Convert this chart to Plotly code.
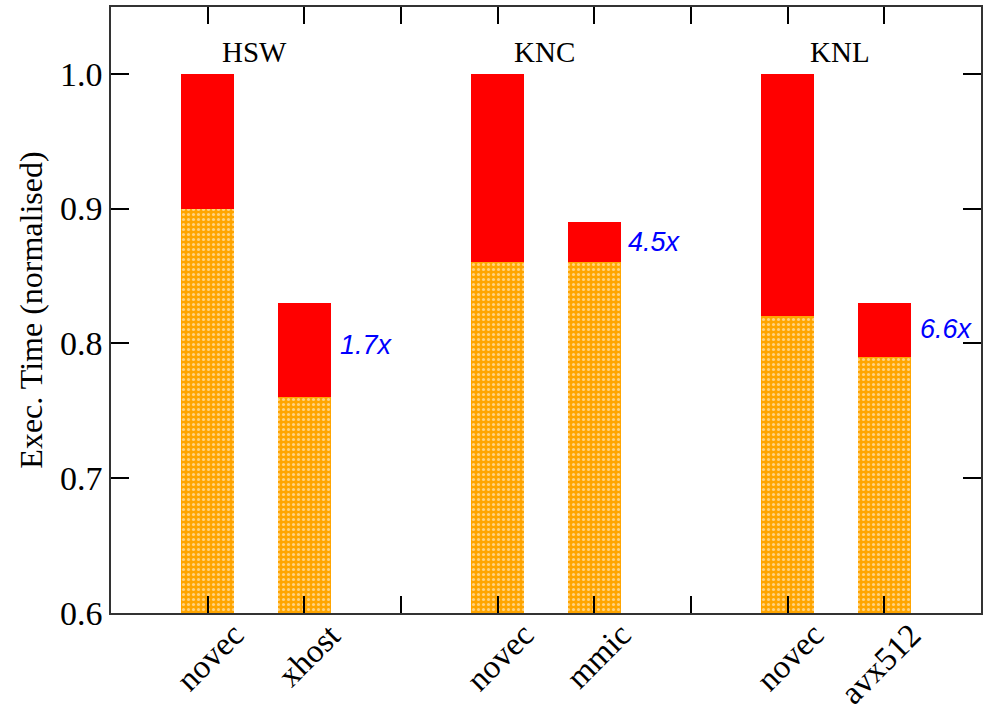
import plotly.graph_objects as go

# Bar positions and labels
positions = [1, 2, 4, 5, 7, 8]
tick_vals = [1, 2, 3, 4, 5, 6, 7, 8]
bar_labels = ["novec", "xhost", "novec", "mmic", "novec", "avx512"]

# Normalised execution time: lower (vector) part and total
lower_part = [0.90, 0.76, 0.86, 0.86, 0.82, 0.79]
total_time = [1.00, 0.83, 1.00, 0.89, 1.00, 0.83]
upper_part = [t - b for t, b in zip(total_time, lower_part)]

# Architecture group labels
groups = ["HSW", "KNC", "KNL"]
group_x = [1.48, 4.48, 7.54]
group_y = 1.016

# Speedup labels
speedups = ["1.7x", "4.5x", "6.6x"]
speedup_x = [2.35, 5.33, 8.35]
speedup_y = [0.799, 0.875, 0.811]

serif = "Liberation Serif, Times New Roman, serif"

fig = go.Figure()
fig.add_trace(go.Bar(
    x=positions, y=lower_part, width=0.55,
    marker=dict(color="#ffa500", line=dict(width=0),
                pattern=dict(shape=".", fgcolor="#ffffff", bgcolor="#ffa500",
                             size=5, solidity=0.3)),
    showlegend=False,
))
fig.add_trace(go.Bar(
    x=positions, y=upper_part, width=0.55,
    marker=dict(color="#ff0000", line=dict(width=0)),
    showlegend=False,
))

# Rotated category labels under each bar
for lab, px in zip(bar_labels, positions):
    fig.add_annotation(x=px, y=0, xref="x", yref="paper", text=lab,
                       textangle=-45, showarrow=False,
                       xanchor="right", yanchor="top", xshift=46, yshift=-1,
                       font=dict(family=serif, size=33, color="black"))

for name, gx in zip(groups, group_x):
    fig.add_annotation(x=gx, y=group_y, text=name, showarrow=False,
                       font=dict(family=serif, size=29, color="black"))

for s, sx, sy in zip(speedups, speedup_x, speedup_y):
    fig.add_annotation(x=sx, y=sy, text=s, showarrow=False, xanchor="left",
                       font=dict(family="Liberation Sans, Arial, sans-serif",
                                 size=27, color="#0000ff", style="italic"))

fig.update_layout(
    barmode="stack",
    width=990, height=716,
    margin=dict(l=111, r=9, t=5, b=103),
    paper_bgcolor="white", plot_bgcolor="white",
    font=dict(family=serif, color="black"),
    xaxis=dict(range=[0, 9], tickvals=tick_vals, showticklabels=False,
               ticks="inside", ticklen=17, tickwidth=1.5,
               tickcolor="black", mirror="ticks", showline=True,
               linecolor="#333333", linewidth=1.5, showgrid=False,
               zeroline=False),
    yaxis=dict(range=[0.6, 1.0495], tickvals=[0.6, 0.7, 0.8, 0.9, 1.0],
               tickformat=".1f", ticks="inside", ticklen=18, tickwidth=1.5,
               tickcolor="black", mirror="ticks", showline=True,
               linecolor="#333333", linewidth=1.5, showgrid=False,
               zeroline=False, tickfont=dict(family=serif, size=34),
               title=dict(text="Exec. Time (normalised)",
                          font=dict(family=serif, size=32), standoff=8)),
)

fig.write_html("out.html")
